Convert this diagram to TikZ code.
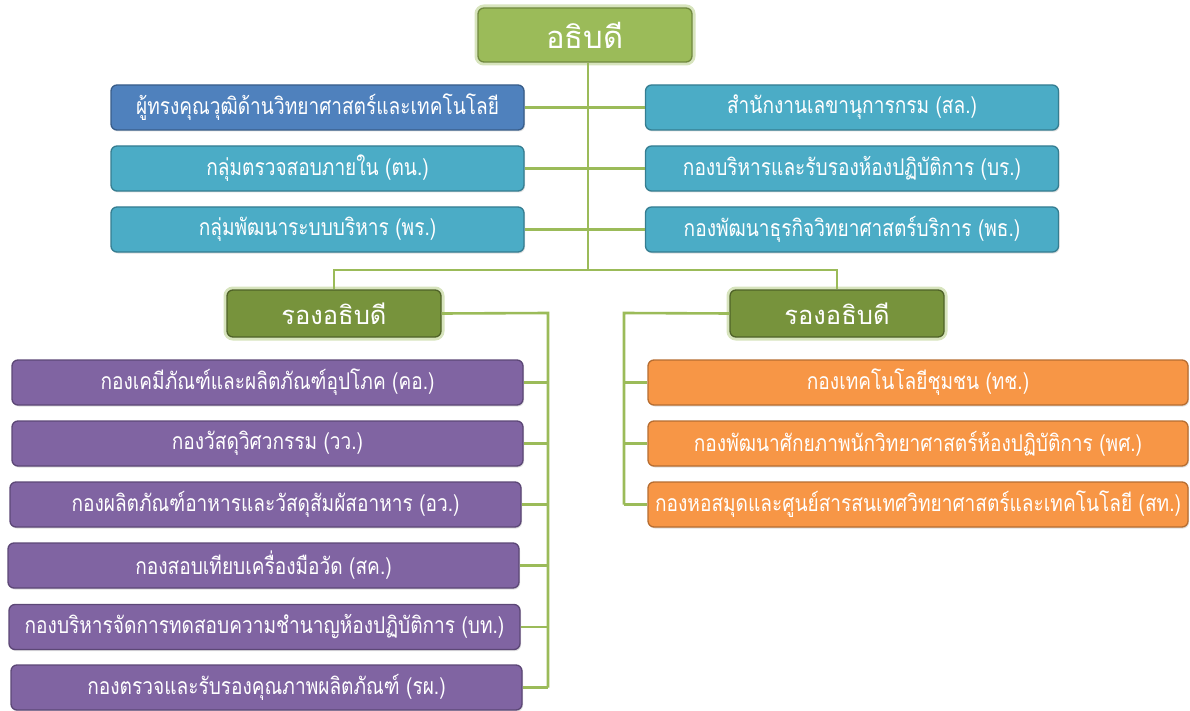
\documentclass[tikz,border=0pt]{standalone}
\usepackage{fontspec}
\newfontfamily\thai[Script=Thai]{Loma}
\newfontfamily\thaiN[Script=Thai,FakeStretch=0.83]{Loma}
\usetikzlibrary{shadows}
\definecolor{gTop}{HTML}{9BBB59}
\definecolor{gTopB}{HTML}{71893F}
\definecolor{gVP}{HTML}{77933C}
\definecolor{gVPB}{HTML}{4F6228}
\definecolor{glowc}{HTML}{D7E4BD}
\definecolor{bBlue}{HTML}{4F81BD}
\definecolor{bBlueB}{HTML}{385D8A}
\definecolor{bTeal}{HTML}{4BACC6}
\definecolor{bTealB}{HTML}{357D91}
\definecolor{bPur}{HTML}{8064A2}
\definecolor{bPurB}{HTML}{5C4776}
\definecolor{bOr}{HTML}{F79646}
\definecolor{bOrB}{HTML}{B66D31}
\definecolor{conn}{HTML}{9BBB59}
\tikzset{
  boxbase/.style={rounded corners=6pt, line width=1.3pt, text=white, inner sep=0pt,
    drop shadow={opacity=0.25, shadow xshift=1pt, shadow yshift=-1.5pt}},
  unitbox/.style={boxbase, minimum height=45pt, font=\thaiN\fontsize{23}{25}\selectfont},
  topbox/.style={boxbase, fill=gTop, draw=gTopB, minimum width=214pt, minimum height=54pt,
    font=\thai\fontsize{31}{33}\selectfont, preaction={draw=glowc, line width=7pt}},
  vpbox/.style={boxbase, fill=gVP, draw=gVPB, minimum width=214pt, minimum height=47pt,
    font=\thai\fontsize{25.5}{27}\selectfont, preaction={draw=glowc, line width=7pt}},
  bluebox/.style={unitbox, fill=bBlue, draw=bBlueB, minimum width=413pt},
  tealbox/.style={unitbox, fill=bTeal, draw=bTealB, minimum width=413pt},
  purbox/.style={unitbox, fill=bPur, draw=bPurB, minimum width=511pt},
  orbox/.style={unitbox, fill=bOr, draw=bOrB, minimum width=540pt},
  link/.style={draw=conn, line width=2.6pt}
}
\begin{document}
\begin{tikzpicture}[x=1pt,y=-1pt]
\useasboundingbox (0,0) rectangle (1190,711);
\coordinate (hub) at (588,270);
\coordinate (bl) at (548,313);
\coordinate (br) at (624,313);
\node[topbox] (dg) at (585,35) {อธิบดี};
\node[bluebox] (L1) at (317.5,107.5) {ผู้ทรงคุณวุฒิด้านวิทยาศาสตร์และเทคโนโลยี};
\node[tealbox] (L2) at (317.5,168.5) {กลุ่มตรวจสอบภายใน (ตน.)};
\node[tealbox] (L3) at (317.5,229.5) {กลุ่มพัฒนาระบบบริหาร (พร.)};
\node[tealbox] (R1) at (852,107.5) {สำนักงานเลขานุการกรม (สล.)};
\node[tealbox] (R2) at (852,168.5) {กองบริหารและรับรองห้องปฏิบัติการ (บร.)};
\node[tealbox] (R3) at (852,229.5) {กองพัฒนาธุรกิจวิทยาศาสตร์บริการ (พธ.)};
\node[vpbox] (vpL) at (334,313.5) {รองอธิบดี};
\node[vpbox] (vpR) at (837,313.5) {รองอธิบดี};
\node[purbox] (P1) at (267.5,382.5) {กองเคมีภัณฑ์และผลิตภัณฑ์อุปโภค (คอ.)};
\node[purbox] (P2) at (267.5,443.5) {กองวัสดุวิศวกรรม (วว.)};
\node[purbox] (P3) at (265.5,504.5) {กองผลิตภัณฑ์อาหารและวัสดุสัมผัสอาหาร (อว.)};
\node[purbox] (P4) at (263.5,565.5) {กองสอบเทียบเครื่องมือวัด (สค.)};
\node[purbox] (P5) at (264.5,627) {กองบริหารจัดการทดสอบความชำนาญห้องปฏิบัติการ (บท.)};
\node[purbox] (P6) at (266.5,687.5) {กองตรวจและรับรองคุณภาพผลิตภัณฑ์ (รผ.)};
\node[orbox] (O1) at (918,382.5) {กองเทคโนโลยีชุมชน (ทช.)};
\node[orbox] (O2) at (918,443.5) {กองพัฒนาศักยภาพนักวิทยาศาสตร์ห้องปฏิบัติการ (พศ.)};
\node[orbox] (O3) at (918,504.5) {กองหอสมุดและศูนย์สารสนเทศวิทยาศาสตร์และเทคโนโลยี (สท.)};
% trunk
\draw[link] (dg.south -| hub) -- (hub);
\draw[link] (vpL.north) -- (vpL.north |- hub) -- (vpR.north |- hub) -- (vpR.north);
\foreach \n in {L1,L2,L3} \draw[link] (\n.east) -- (\n.east -| hub);
\foreach \n in {R1,R2,R3} \draw[link] (\n.west) -- (\n.west -| hub);
% left VP branch
\draw[link] (vpL.east) -- (bl) -- (bl |- P6.east);
\foreach \n in {P1,P2,P3,P4,P5,P6} \draw[link] (\n.east) -- (\n.east -| bl);
% right VP branch
\draw[link] (vpR.west) -- (br) -- (br |- O3.west);
\foreach \n in {O1,O2,O3} \draw[link] (\n.west) -- (\n.west -| br);
\end{tikzpicture}
\end{document}
